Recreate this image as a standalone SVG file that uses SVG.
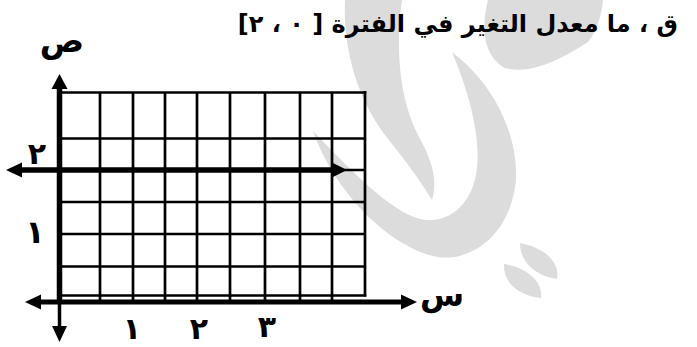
<svg xmlns="http://www.w3.org/2000/svg" width="697" height="347" viewBox="0 0 697 347">
<style>
.wm{fill:#dcdcdc}
.g{stroke:#000;stroke-width:2.7;fill:none}
.ax{stroke:#000;stroke-width:5.5;fill:none}
.ah{fill:#000}
.t{font-family:"DejaVu Sans",sans-serif;font-weight:bold;fill:#000}
</style>
<rect width="697" height="347" fill="#fff"/>
<g id="watermark">
<path class="wm" d="M345,0 C343,45 355,95 385,135 C405,160 420,180 432,200 C438,180 432,160 418,135 C400,100 395,50 402,0 Z"/>
<path class="wm" d="M313,131 C325,165 350,205 390,235 C415,252 435,260 455,257 C490,250 512,220 516,180 C518,135 495,85 452,52 C470,95 482,140 476,175 C470,205 450,222 425,220 C395,215 360,180 313,131 Z"/>
<path class="wm" d="M488,0 C480,30 485,58 505,68 C530,75 560,60 588,42 C598,30 602,12 603,0 Z"/>
<path class="wm" d="M520,243 C545,248 560,262 557,279 C535,276 520,262 520,243 Z"/>
<path class="wm" d="M504,264 C528,268 543,282 541,298 C518,296 503,282 504,264 Z"/>
</g>
<g id="grid">
<path class="g" d="M100,92.5V300M133,92.5V300M165,92.5V300M197,92.5V300M230,92.5V300M265,92.5V300M300,92.5V300M332,92.5V300M365,91V296.5"/>
<path class="g" d="M60,92.5H366.3M60,138.5H365M60,202H365M60,234H365M60,266.5H365M60,295.5H366.3M333,170H365"/>
</g>
<g id="connectors">
<path class="ax" d="M59.5,87V302"/>
<polygon class="ah" points="59.5,74 51.5,89 67.5,89"/>
<path class="ax" d="M59.5,302V328" style="stroke-width:3.5"/>
<polygon class="ah" points="59.5,342 52,326 67,326"/>
<path class="ax" d="M40,302H402" style="stroke-width:5"/>
<polygon class="ah" points="25,302 41,294.5 41,309.5"/>
<polygon class="ah" points="417,302 401,294.5 401,309.5"/>
<path class="ax" d="M21,170H334"/>
<polygon class="ah" points="6,170 22,162.5 22,177.5"/>
<polygon class="ah" points="347,170 332,162.5 332,177.5"/>
</g>
<g id="labels">
<text class="t" x="678" y="32" font-size="24" direction="rtl" text-anchor="start">ق ، ما معدل التغير في الفترة [ ٠ ، ٢]</text>
<text class="t" x="62" y="52" font-size="33" text-anchor="middle">ص</text>
<text class="t" x="37" y="164" font-size="30" text-anchor="middle">٢</text>
<text class="t" x="35" y="243" font-size="32" text-anchor="middle">١</text>
<text class="t" x="132" y="339" font-size="30" text-anchor="middle">١</text>
<text class="t" x="199" y="339" font-size="30" text-anchor="middle">٢</text>
<text class="t" x="267" y="337" font-size="30" text-anchor="middle">٣</text>
<text class="t" x="442" y="306" font-size="32" text-anchor="middle">س</text>
</g>
</svg>
